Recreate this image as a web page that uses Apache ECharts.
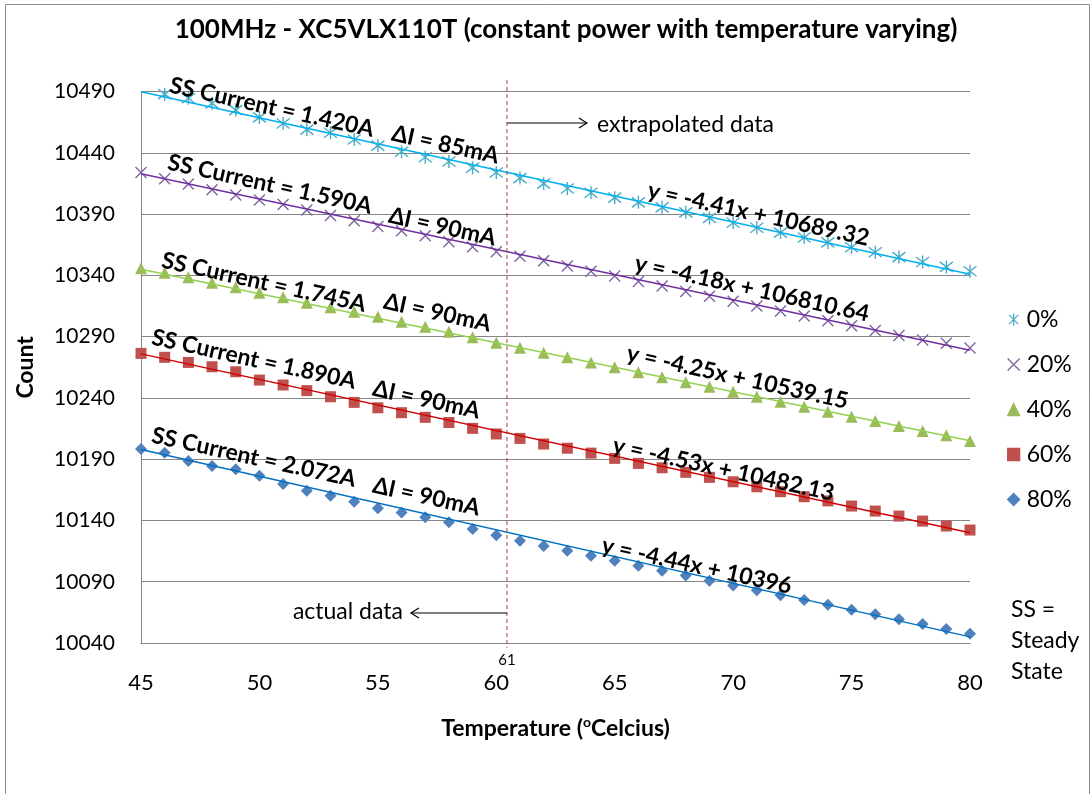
<!DOCTYPE html>
<html><head><meta charset="utf-8">
<script src="https://cdn.jsdelivr.net/npm/echarts@6/dist/echarts.min.js"></script>
<style>html,body{margin:0;padding:0;background:#fff}#c{width:1091px;height:794px}</style>
</head><body><div id="c"></div>
<script>
// ---- data ----
const temps = [45,46,47,48,49,50,51,52,53,54,55,56,57,58,59,60,61,62,63,64,65,66,67,68,69,70,71,72,73,74,75,76,77,78,79,80];
const seriesNames = ['0%','20%','40%','60%','80%'];
const count0  = [10491,10488,10484.6,10480.5,10475,10469,10464,10459,10456.5,10451,10446,10441,10436.5,10433,10428,10424,10419.5,10415,10411,10407.5,10403.5,10399.7,10395.6,10391.5,10387,10383,10379,10375,10371,10367,10363,10359,10355,10351,10347,10343.4];
const count20 = [10424,10419,10414.7,10410,10405.7,10401.6,10398,10393.4,10389,10384.7,10380,10376.5,10372.5,10367.5,10363.5,10359.4,10355.6,10352,10347.7,10343.4,10339.5,10335,10331.4,10327,10323,10319,10315,10311,10307,10303,10299,10295,10291,10287.3,10284.6,10280.8];
const count40 = [10345.8,10342.2,10338.5,10334.1,10330.3,10325.9,10322.2,10317.8,10314,10310.4,10306.3,10302.2,10298.2,10294.1,10289.5,10285.1,10281,10277,10273.2,10269,10265,10261,10256.9,10252.8,10249.2,10245.1,10241,10237,10232.9,10228.8,10224.7,10221.2,10217.1,10213,10209.5,10204.9];
const count60 = [10276.4,10273.2,10269,10265.5,10261.4,10254.6,10250.6,10246,10241,10236.4,10232,10228,10224.2,10220,10215.2,10210.6,10207,10202.4,10199,10195,10190.7,10186.6,10183,10179.3,10175.2,10171.6,10167.5,10163.5,10159.4,10156,10151.8,10147.7,10143.6,10139.5,10135.5,10132.2];
const count80 = [10198.3,10195.3,10188.5,10184.5,10181.8,10176.5,10169.7,10164.3,10160.2,10155.3,10149.9,10146.6,10142.6,10138.5,10133,10128,10123.5,10119.2,10115.3,10111.2,10107.2,10103.1,10099,10095,10090.8,10087,10083,10079,10075,10071.3,10067.2,10063.4,10059.3,10055.5,10051.4,10047.6];
// trendline end points (at 45 and 80)
const trendX = [45, 80];
const trend0  = [10490, 10341];
const trend20 = [10423, 10279];
const trend40 = [10345, 10205];
const trend60 = [10276, 10130];
const trend80 = [10198, 10045];
const yTicks = [10040,10090,10140,10190,10240,10290,10340,10390,10440,10490];
const xTickStep = 5;
const dividerX = 60.45;
const dividerLabel = '61';
const ssLabels = ['SS Current = 1.420A','SS Current = 1.590A','SS Current = 1.745A','SS Current = 1.890A','SS Current = 2.072A'];
const dLabels = ['ΔI = 85mA','ΔI = 90mA','ΔI = 90mA','ΔI = 90mA','ΔI = 90mA'];
const eqLabels = ['y = -4.41x + 10689.32','y = -4.18x + 106810.64','y = -4.25x + 10539.15','y = -4.53x + 10482.13','y = -4.44x + 10396'];
const titleText = '100MHz - XC5VLX110T (constant power with temperature varying)';
const noteLines = ['SS =','Steady','State'];

// ---- styles ----
const FONT = 'Lato';
const markerColors = ['#4BACC6','#8064A2','#9BBB59','#C0504D','#4F81BD'];
const lineColors = ['#00B0F0','#7030A0','#92D050','#D00000','#0070C0'];
const symbols = ['path://M0,0L10,10M0,10L10,0M5,-1.5L5,11.5','path://M0,0L10,10M0,10L10,0','triangle','rect','diamond'];
const symbolSizes = [13,11,12,11,12];
const counts = [count0,count20,count40,count60,count80];
const trends = [trend0,trend20,trend40,trend60,trend80];

const chart = echarts.init(document.getElementById('c'));
const series = [];
counts.forEach((vals,i)=>{
  series.push({
    name: seriesNames[i], type:'scatter', symbol: symbols[i], symbolSize: symbolSizes[i],
    data: temps.map((t,k)=>[t, vals[k]]),
    itemStyle:{color: markerColors[i], borderColor: markerColors[i], borderWidth: i<2?1.4:0, opacity:1},
    z: 3, silent:true
  });
});
trends.forEach((vals,i)=>{
  series.push({
    name: 'trend'+i, type:'line', symbol:'none', data: trendX.map((t,k)=>[t, vals[k]]),
    lineStyle:{color: lineColors[i], width:1.5}, z: 4, silent:true
  });
});

chart.setOption({
  animation:false,
  backgroundColor:'#fff',
  grid:{left:141, right:121, top:91.7, bottom:151, containLabel:false},
  xAxis:{type:'value', min:45, max:80, interval:xTickStep,
    name:'{a|Temperature (}{s|o}{a|Celcius)}', nameLocation:'middle', nameGap:72,
    nameTextStyle:{rich:{a:{fontFamily:FONT,fontWeight:'bold',fontSize:23,color:'#000',lineHeight:28},
                         s:{fontFamily:FONT,fontWeight:'bold',fontSize:14,color:'#000',verticalAlign:'top',lineHeight:28,padding:[0,0,12,0]}}},
    axisLine:{show:true,lineStyle:{color:'#868686',width:1}}, axisTick:{show:false}, splitLine:{show:false},
    axisLabel:{margin:29, fontFamily:FONT, fontSize:22, color:'#000', formatter:v=>String(v)}},
  yAxis:{type:'value', min:10040, max:10490,
    name:'Count', nameLocation:'middle', nameGap:104, nameRotate:90,
    nameTextStyle:{fontFamily:FONT,fontWeight:'bold',fontSize:23,color:'#000'},
    axisLine:{show:true,lineStyle:{color:'#868686',width:1}},
    axisTick:{show:false, customValues:yTicks},
    axisLabel:{customValues:yTicks, margin:26, fontFamily:FONT, fontSize:21, color:'#000', formatter:v=>String(v)},
    splitLine:{show:true,lineStyle:{color:'#868686',width:1}}},
  legend:{data:seriesNames, orient:'vertical', left:1007, top:308, padding:0, itemWidth:12, itemHeight:12, itemGap:22,
    textStyle:{fontFamily:FONT,fontSize:23,color:'#000',padding:[0,0,0,2]},
    itemStyle:{borderWidth:1.3}},
  series
});

// annotations
const px = chart.convertToPixel({xAxisIndex:0}, dividerX);
const rot = -12.4*Math.PI/180;
const ssPos = [[170,85],[168,162],[162,260],[152,337],[152,435]];
const dPos = [[392,133],[389,215],[384,301],[373,388],[373,485]];
const eqPos = [[648,190],[635,263],[627,353],[613,445],[602,545]];
const g = [];
g.push({type:'rect', shape:{x:5.5,y:4.5,width:1084,height:1000}, style:{fill:null, stroke:'#8c8c8c', lineWidth:1}, silent:true, z:0});
g.push({type:'text', x:566, y:30, style:{text:titleText, font:'bold 26px '+FONT, fill:'#000', align:'center', verticalAlign:'middle'}});
g.push({type:'line', shape:{x1:px,y1:80,x2:px,y2:648}, style:{stroke:'#B03A3A', lineWidth:1, lineDash:[4,3]}, z:50});
g.push({type:'text', x:px, y:660, style:{text:dividerLabel, font:'15px '+FONT, fill:'#000', align:'center', verticalAlign:'middle'}});
g.push({type:'line', shape:{x1:px,y1:123,x2:px+80,y2:123}, style:{stroke:'#000', lineWidth:1.2}, z:50});
g.push({type:'polyline', shape:{points:[[px+72,118],[px+80,123],[px+72,128]]}, style:{stroke:'#000', lineWidth:1.2, fill:null}, z:50});
g.push({type:'text', x:px+90, y:125, style:{text:'extrapolated data', font:'23px '+FONT, fill:'#000', align:'left', verticalAlign:'middle'}});
g.push({type:'line', shape:{x1:px,y1:613,x2:px-96,y2:613}, style:{stroke:'#000', lineWidth:1.2}, z:50});
g.push({type:'polyline', shape:{points:[[px-88,608],[px-96,613],[px-88,618]]}, style:{stroke:'#000', lineWidth:1.2, fill:null}, z:50});
g.push({type:'text', x:px-104, y:612, style:{text:'actual data', font:'23px '+FONT, fill:'#000', align:'right', verticalAlign:'middle'}});
noteLines.forEach((t,i)=>{
  g.push({type:'text', x:1011, y:610+i*31, style:{text:t, font:'23px '+FONT, fill:'#000', align:'left', verticalAlign:'middle'}});
});
for(let i=0;i<5;i++){
  g.push({type:'text', x:ssPos[i][0], y:ssPos[i][1], rotation:rot, style:{text:ssLabels[i], font:'bold 23px '+FONT, fill:'#000', align:'left', verticalAlign:'middle'}, z:60});
  g.push({type:'text', x:dPos[i][0], y:dPos[i][1], rotation:rot, style:{text:dLabels[i], font:'bold 23px '+FONT, fill:'#000', align:'left', verticalAlign:'middle'}, z:60});
  g.push({type:'text', x:eqPos[i][0], y:eqPos[i][1], rotation:rot, style:{text:eqLabels[i], font:'bold 23px '+FONT, fill:'#000', align:'left', verticalAlign:'middle'}, z:60});
}
chart.setOption({graphic:g});
</script>
</body></html>
